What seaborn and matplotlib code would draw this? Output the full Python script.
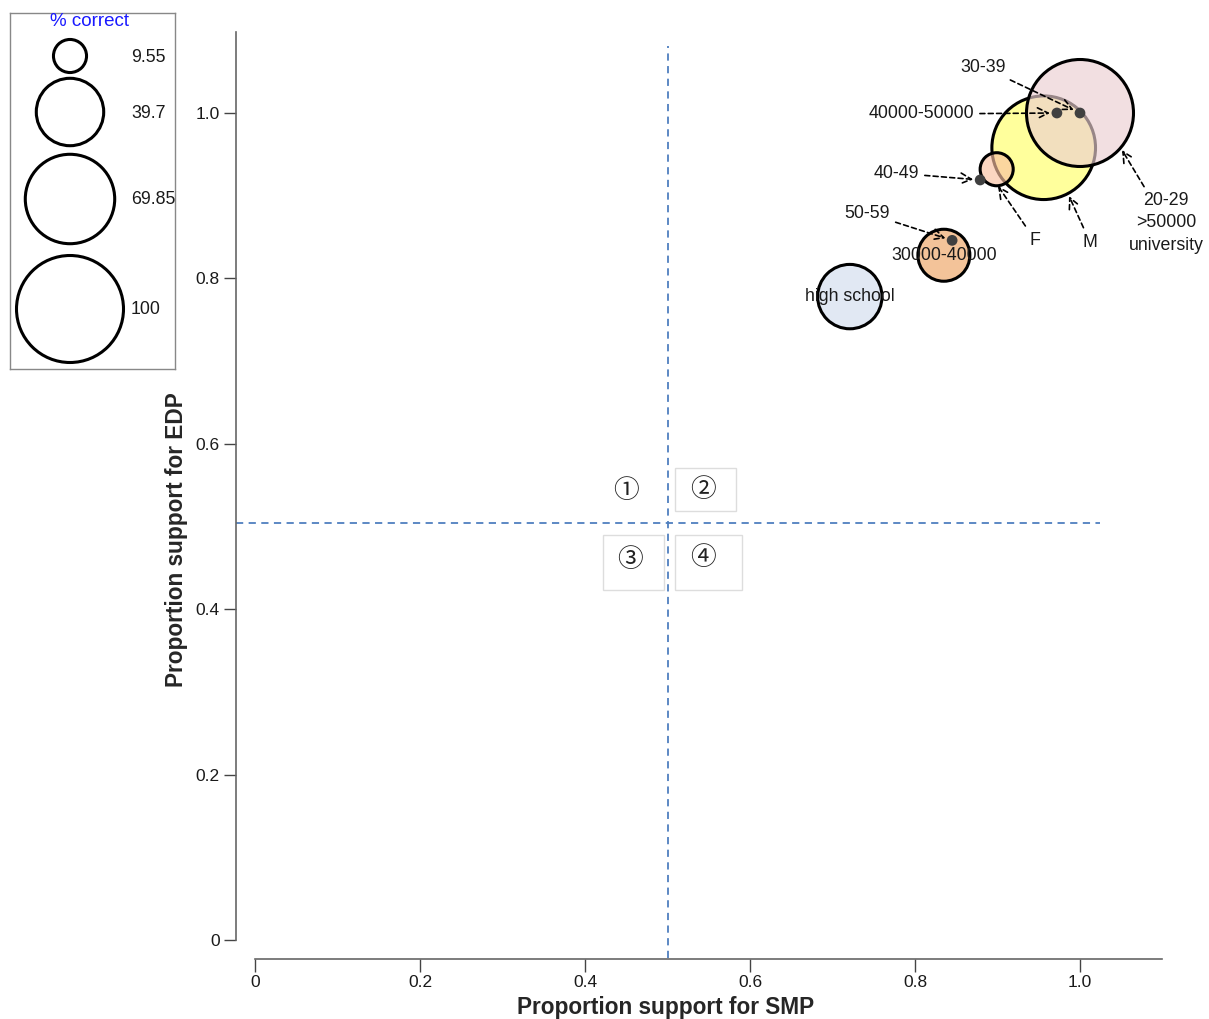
import numpy as np
import pandas as pd
import matplotlib
matplotlib.use('Agg')
import matplotlib.pyplot as plt
from matplotlib.patches import Rectangle
import seaborn as sns

# bubbles: support for SMP / EDP, bubble area = % correct
groups = ['high school', '30000-40000', 'M', 'F', '20-29\n>50000\nuniversity']
smp = [0.721, 0.835, 0.956, 0.899, 1.0]
edp = [0.778, 0.828, 0.958, 0.932, 1.0]
pct_correct = [36.2, 23.6, 93.8, 9.55, 100]
shown_col = ['#e1e8f3', '#f4c499', '#ffff9c', '#fbd6c2', '#f2e0e1']

# groups drawn as small dots only
dot_groups = ['30-39', '40000-50000', '40-49', '50-59']
dot_smp = [1.0, 0.972, 0.879, 0.845]
dot_edp = [1.0, 1.0, 0.919, 0.846]

legend_vals = [9.55, 39.7, 69.85, 100]
legend_txt = ['9.55', '39.7', '69.85', '100']

ticks = [0, 0.2, 0.4, 0.6, 0.8, 1.0]
tick_txt = ['0', '0.2', '0.4', '0.6', '0.8', '1.0']

sns.set_style('ticks')
plt.rcParams['font.family'] = ['Liberation Sans', 'DejaVu Sans']

DPI = 100
ALPHA = 0.65
S_PER_PCT = (107 / (DPI / 72)) ** 2 / 100  # marker area per % (pt^2)


def base_col(hexc):
    v = np.array(matplotlib.colors.to_rgb(hexc))
    c = np.clip(1 - (1 - v) / ALPHA, 0, 1)
    return (c[0], c[1], c[2], ALPHA)


df = pd.DataFrame({'group': groups, 'smp': smp, 'edp': edp, 'pct': pct_correct})
pal = {g: base_col(c) for g, c in zip(groups, shown_col)}
sz = {g: p * S_PER_PCT for g, p in zip(groups, pct_correct)}

fig = plt.figure(figsize=(12.09, 10.19), dpi=DPI)
ax = fig.add_axes([255 / 1209, 79 / 1019, 907 / 1209, 908 / 1019])

sns.scatterplot(data=df, x='smp', y='edp', hue='group', palette=pal, size='group',
                sizes=sz, legend=False, edgecolor='black', linewidth=2.2, ax=ax, zorder=3)
sns.scatterplot(x=dot_smp, y=dot_edp, color='#404040', s=60, edgecolor='none',
                ax=ax, zorder=4)

ax.set_xlim(0, 907 / 825)
ax.set_ylim(0, 908 / 827)

# quadrant lines
lc = '#4f7fbf'
ax.plot([0.5, 0.5], [-0.022, 1.081], ls=(0, (4, 3)), color=lc, lw=1.3, clip_on=False, zorder=1)
ax.plot([-0.023, 1.024], [0.504, 0.504], ls=(0, (4, 3)), color=lc, lw=1.3, clip_on=False, zorder=1)

# quadrant marks
qfont = ['Noto Sans CJK SC', 'DejaVu Sans']
for t, x, y in [('①', 0.4497, 0.5429), ('②', 0.543, 0.5441), ('③', 0.4545, 0.4595), ('④', 0.543, 0.4619)]:
    ax.text(x, y, t, ha='center', va='center', fontsize=18.5, family=qfont, color='#222222')
for x0, y0, w, h in [(0.5085, 0.5187, 0.0751, 0.052), (0.4218, 0.4232, 0.074, 0.0665),
                     (0.5085, 0.4232, 0.0818, 0.0665)]:
    ax.add_patch(Rectangle((x0, y0), w, h, fill=False, ec='#dddddd', lw=1, clip_on=False))

# labels
arrow = dict(arrowstyle='->,head_length=0.6,head_width=0.3', linestyle=(0, (3, 2)),
             lw=1.2, color='black', shrinkA=2)
lab_kw = dict(ha='center', va='center', fontsize=12.8, color='#1a1a1a')
dot_text = {'30-39': (0.8824, 1.0556), '40000-50000': (0.8073, 0.9988),
            '40-49': (0.777, 0.9274), '50-59': (0.7418, 0.879)}
for g, x, y in zip(dot_groups, dot_smp, dot_edp):
    ax.annotate(g, xy=(x, y), xytext=dot_text[g], arrowprops=dict(arrow, shrinkB=5),
                zorder=5, **lab_kw)

ax.annotate('F', xy=(0.9006, 0.9117), xytext=(0.9455, 0.8464),
            arrowprops=dict(arrow, shrinkB=0), zorder=5, **lab_kw)
ax.annotate('M', xy=(0.9867, 0.8996), xytext=(1.0121, 0.844),
            arrowprops=dict(arrow, shrinkB=0), zorder=5, **lab_kw)
ax.annotate(groups[4], xy=(1.0509, 0.9553), xytext=(1.1042, 0.867),
            arrowprops=dict(arrow, shrinkB=0), linespacing=1.4, zorder=5,
            annotation_clip=False, **lab_kw)
for g, x, y in zip(groups[:2], smp[:2], edp[:2]):
    ax.text(x, y, g, zorder=5, **lab_kw)

# axes styling
sns.despine(ax=ax, offset=13.5)
for s in ['left', 'bottom']:
    ax.spines[s].set_color('#666666')
    ax.spines[s].set_linewidth(1.2)
ax.set_xticks(ticks)
ax.set_xticklabels(tick_txt)
ax.set_yticks(ticks)
ax.set_yticklabels(tick_txt)
ax.tick_params(length=9, width=1, color='#444444', labelsize=12.5, pad=3, labelcolor='#1a1a1a')
ax.set_xlabel('Proportion support for SMP', fontsize=16.3, fontweight='bold')
ax.set_ylabel('Proportion support for EDP', fontsize=16.3, fontweight='bold')
ax.xaxis.set_label_coords(0.453, -0.0615)
ax.yaxis.set_label_coords(-0.0735, 0.4405)

# size legend box
lax = fig.add_axes([10 / 1209, 650 / 1019, 165 / 1209, 356 / 1019])
lax.set_facecolor('none')
lax.set_xticks([])
lax.set_yticks([])
for s in lax.spines.values():
    s.set_visible(True)
    s.set_color('#888888')
    s.set_linewidth(1)
leg_y = [43, 99, 186, 296]
sns.scatterplot(x=[60] * 4, y=leg_y, s=[v * S_PER_PCT for v in legend_vals],
                color='white', edgecolor='black', linewidth=2.2, ax=lax, legend=False)
for t, y in zip(legend_txt, leg_y):
    lax.text(121, y + 1, t, ha='left', va='center', fontsize=12.8, color='#1a1a1a')
lax.text(79, 9, '% correct', ha='center', va='center', fontsize=13.5, color='#1a1aff')
lax.set_xlim(0, 165)
lax.set_ylim(356, 0)

fig.savefig('out.png', dpi=DPI)
